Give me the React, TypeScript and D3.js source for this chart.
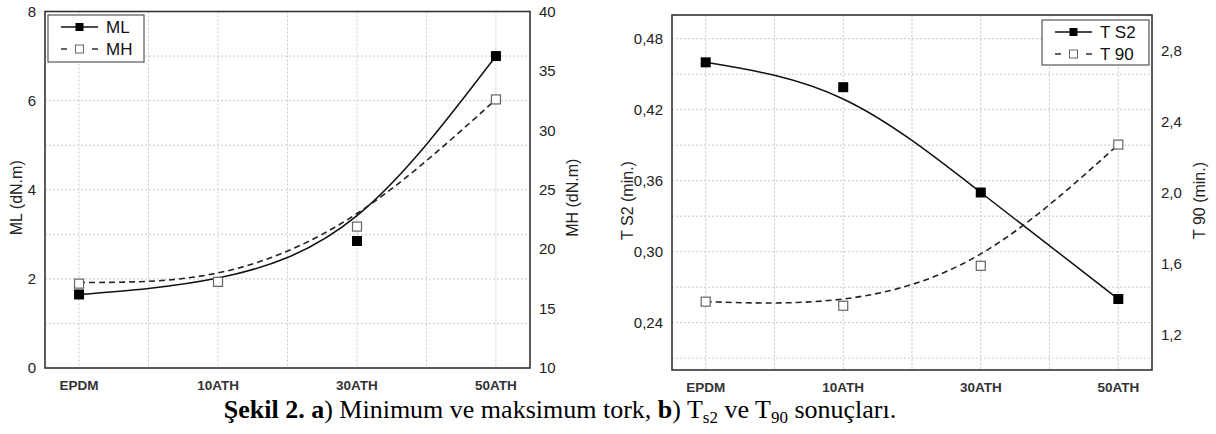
import React, { useEffect, useRef } from 'react';
import * as d3 from 'd3';

// Cure test results: a) min / max torque, b) scorch and cure times.
const categories = ['EPDM', '10ATH', '30ATH', '50ATH'];

// panel a
const mlValues = [1.65, 1.93, 2.85, 7.0];
const mhValues = [17.1, 17.25, 21.9, 32.6];
const mlFit = [1.65, 2.02, 3.42, 7.0];
const mhFit = [17.2, 18.0, 23.0, 32.6];
const mlTicks = [0, 2, 4, 6, 8];
const mlGrid = [1, 2, 3, 4, 5, 6, 7];
const mhTicks = [10, 15, 20, 25, 30, 35, 40];

// panel b
const ts2Values = [0.46, 0.439, 0.35, 0.26];
const t90Values = [1.385, 1.362, 1.587, 2.27];
const ts2Fit = [0.46, 0.429, 0.35, 0.26];
const t90Fit = [1.385, 1.4, 1.654, 2.27];
const ts2Ticks = [0.24, 0.3, 0.36, 0.42, 0.48];
const ts2Grid = [0.21, 0.24, 0.27, 0.3, 0.33, 0.36, 0.39, 0.42, 0.45, 0.48];
const t90Ticks = [1.2, 1.6, 2.0, 2.4, 2.8];

const WIDTH = 1216;
const HEIGHT = 434;
const FONT = 'Liberation Sans, Arial, sans-serif';

type Panel = {
  x0: number;
  x1: number;
  y0: number;
  y1: number;
  leftDomain: [number, number];
  rightDomain: [number, number];
  leftTicks: number[];
  leftGrid: number[];
  rightTicks: number[];
  leftFmt: (v: number) => string;
  rightFmt: (v: number) => string;
  leftTitle: string;
  leftTitleX: number;
  rightTitle: string;
  rightTitleX: number;
  solid: { values: number[]; fit: number[]; name: string };
  dashed: { values: number[]; fit: number[]; name: string };
  legend: { x: number; y: number; w: number; h: number };
};

const comma = (digits: number) => (v: number) => v.toFixed(digits).replace('.', ',');

const panels: Panel[] = [
  {
    x0: 45,
    x1: 530,
    y0: 11.5,
    y1: 368,
    leftDomain: [0, 8],
    rightDomain: [10, 40],
    leftTicks: mlTicks,
    leftGrid: mlGrid,
    rightTicks: mhTicks,
    leftFmt: (v) => String(v),
    rightFmt: (v) => String(v),
    leftTitle: 'ML (dN.m)',
    leftTitleX: 16,
    rightTitle: 'MH (dN.m)',
    rightTitleX: 572,
    solid: { values: mlValues, fit: mlFit, name: 'ML' },
    dashed: { values: mhValues, fit: mhFit, name: 'MH' },
    legend: { x: 48, y: 15, w: 96, h: 47 },
  },
  {
    x0: 672,
    x1: 1152,
    y0: 15,
    y1: 370,
    leftDomain: [0.2, 0.5],
    rightDomain: [1.0, 3.0],
    leftTicks: ts2Ticks,
    leftGrid: ts2Grid,
    rightTicks: t90Ticks,
    leftFmt: comma(2),
    rightFmt: comma(1),
    leftTitle: 'T S2 (min.)',
    leftTitleX: 627,
    rightTitle: 'T 90 (min.)',
    rightTitleX: 1199,
    solid: { values: ts2Values, fit: ts2Fit, name: 'T S2' },
    dashed: { values: t90Values, fit: t90Fit, name: 'T 90' },
    legend: { x: 1042, y: 20, w: 107, h: 45 },
  },
];

function drawPanel(svg: d3.Selection<SVGSVGElement, unknown, null, undefined>, p: Panel) {
  const g = svg.append('g');

  const x = d3.scalePoint<string>().domain(categories).range([p.x0, p.x1]).padding(0.245);
  const yL = d3.scaleLinear().domain(p.leftDomain).range([p.y1, p.y0]);
  const yR = d3.scaleLinear().domain(p.rightDomain).range([p.y1, p.y0]);

  // vertical grid at each category and halfway between neighbours
  const step = x.step();
  const vLines: number[] = [];
  categories.forEach((c, i) => {
    vLines.push(x(c)!);
    if (i < categories.length - 1) vLines.push(x(c)! + step / 2);
  });
  g.append('g')
    .selectAll('line')
    .data(vLines)
    .enter()
    .append('line')
    .attr('x1', (d) => d)
    .attr('x2', (d) => d)
    .attr('y1', p.y0)
    .attr('y2', p.y1)
    .attr('stroke', '#c8c8c8')
    .attr('stroke-width', 1)
    .attr('stroke-dasharray', '2,2');

  g.append('g')
    .selectAll('line')
    .data(p.leftGrid)
    .enter()
    .append('line')
    .attr('x1', p.x0)
    .attr('x2', p.x1)
    .attr('y1', (d) => yL(d))
    .attr('y2', (d) => yL(d))
    .attr('stroke', '#c8c8c8')
    .attr('stroke-width', 1)
    .attr('stroke-dasharray', '2,2');

  // frame
  g.append('rect')
    .attr('x', p.x0)
    .attr('y', p.y0)
    .attr('width', p.x1 - p.x0)
    .attr('height', p.y1 - p.y0)
    .attr('fill', 'none')
    .attr('stroke', '#333')
    .attr('stroke-width', 1.6);

  // tick labels
  g.append('g')
    .selectAll('text')
    .data(p.leftTicks)
    .enter()
    .append('text')
    .attr('x', p.x0 - 9)
    .attr('y', (d) => yL(d))
    .attr('dy', '0.35em')
    .attr('text-anchor', 'end')
    .attr('font-family', FONT)
    .attr('font-size', 15)
    .attr('fill', '#222')
    .text((d) => p.leftFmt(d));

  g.append('g')
    .selectAll('text')
    .data(p.rightTicks)
    .enter()
    .append('text')
    .attr('x', p.x1 + 9)
    .attr('y', (d) => yR(d))
    .attr('dy', '0.35em')
    .attr('text-anchor', 'start')
    .attr('font-family', FONT)
    .attr('font-size', 15)
    .attr('fill', '#222')
    .text((d) => p.rightFmt(d));

  g.append('g')
    .selectAll('text')
    .data(categories)
    .enter()
    .append('text')
    .attr('x', (d) => x(d)!)
    .attr('y', p.y1 + 22)
    .attr('text-anchor', 'middle')
    .attr('font-family', FONT)
    .attr('font-size', 13.5)
    .attr('font-weight', 'bold')
    .attr('fill', '#333')
    .text((d) => d);

  // axis titles
  const midY = (p.y0 + p.y1) / 2;
  g.append('text')
    .attr('transform', `translate(${p.leftTitleX},${midY + 8}) rotate(-90)`)
    .attr('text-anchor', 'middle')
    .attr('dy', '0.35em')
    .attr('font-family', FONT)
    .attr('font-size', 16)
    .attr('fill', '#222')
    .text(p.leftTitle);
  g.append('text')
    .attr('transform', `translate(${p.rightTitleX},${midY + 8}) rotate(-90)`)
    .attr('text-anchor', 'middle')
    .attr('dy', '0.35em')
    .attr('font-family', FONT)
    .attr('font-size', 16)
    .attr('fill', '#222')
    .text(p.rightTitle);

  // fitted curves
  const lineL = d3
    .line<number>()
    .x((_d, i) => x(categories[i])!)
    .y((d) => yL(d))
    .curve(d3.curveNatural);
  const lineR = d3
    .line<number>()
    .x((_d, i) => x(categories[i])!)
    .y((d) => yR(d))
    .curve(d3.curveNatural);

  g.append('path')
    .attr('d', lineL(p.solid.fit)!)
    .attr('fill', 'none')
    .attr('stroke', '#111')
    .attr('stroke-width', 1.5);
  g.append('path')
    .attr('d', lineR(p.dashed.fit)!)
    .attr('fill', 'none')
    .attr('stroke', '#222')
    .attr('stroke-width', 1.6)
    .attr('stroke-dasharray', '6,4');

  // markers
  const size = 10;
  g.append('g')
    .selectAll('rect')
    .data(p.solid.values)
    .enter()
    .append('rect')
    .attr('x', (_d, i) => x(categories[i])! - size / 2)
    .attr('y', (d) => yL(d) - size / 2)
    .attr('width', size)
    .attr('height', size)
    .attr('fill', '#000');
  g.append('g')
    .selectAll('rect')
    .data(p.dashed.values)
    .enter()
    .append('rect')
    .attr('x', (_d, i) => x(categories[i])! - size / 2 + 0.5)
    .attr('y', (d) => yR(d) - size / 2 + 0.5)
    .attr('width', size - 1)
    .attr('height', size - 1)
    .attr('fill', '#fff')
    .attr('stroke', '#666')
    .attr('stroke-width', 1.2);

  // legend
  const lg = g.append('g').attr('transform', `translate(${p.legend.x},${p.legend.y})`);
  lg.append('rect')
    .attr('width', p.legend.w)
    .attr('height', p.legend.h)
    .attr('fill', '#fff')
    .attr('stroke', '#555')
    .attr('stroke-width', 1.2);
  const rows = [
    { name: p.solid.name, dashed: false, y: 12 },
    { name: p.dashed.name, dashed: true, y: 34 },
  ];
  rows.forEach((r) => {
    const sx0 = 13;
    const sx1 = 50;
    const cx = (sx0 + sx1) / 2;
    if (r.dashed) {
      lg.append('line').attr('x1', sx0).attr('x2', sx0 + 6).attr('y1', r.y).attr('y2', r.y).attr('stroke', '#222').attr('stroke-width', 1.4);
      lg.append('line').attr('x1', sx1 - 6).attr('x2', sx1).attr('y1', r.y).attr('y2', r.y).attr('stroke', '#222').attr('stroke-width', 1.4);
      lg.append('rect')
        .attr('x', cx - 4)
        .attr('y', r.y - 4)
        .attr('width', 8)
        .attr('height', 8)
        .attr('fill', '#fff')
        .attr('stroke', '#666')
        .attr('stroke-width', 1);
    } else {
      lg.append('line').attr('x1', sx0).attr('x2', sx1).attr('y1', r.y).attr('y2', r.y).attr('stroke', '#111').attr('stroke-width', 1.4);
      lg.append('rect').attr('x', cx - 4).attr('y', r.y - 4).attr('width', 8).attr('height', 8).attr('fill', '#000');
    }
    lg.append('text')
      .attr('x', sx1 + 8)
      .attr('y', r.y)
      .attr('dy', '0.36em')
      .attr('font-family', FONT)
      .attr('font-size', 17)
      .attr('fill', '#111')
      .text(r.name);
  });
}

const App = () => {
  const ref = useRef<SVGSVGElement>(null);

  useEffect(() => {
    const svg = d3.select(ref.current!);
    svg.selectAll('*').remove();
    svg.append('rect').attr('width', WIDTH).attr('height', HEIGHT).attr('fill', '#fff');
    panels.forEach((p) => drawPanel(svg, p));

    // figure caption
    const cap = svg
      .append('text')
      .attr('x', 560)
      .attr('y', 418)
      .attr('text-anchor', 'middle')
      .attr('font-family', 'Liberation Serif, Times New Roman, serif')
      .attr('font-size', 26)
      .attr('fill', '#000');
    cap.append('tspan').attr('font-weight', 'bold').text('Şekil 2. a');
    cap.append('tspan').text(') Minimum ve maksimum tork, ');
    cap.append('tspan').attr('font-weight', 'bold').text('b');
    cap.append('tspan').text(') T');
    cap.append('tspan').attr('font-size', 17).attr('dy', 5).text('s2');
    cap.append('tspan').attr('dy', -5).text(' ve T');
    cap.append('tspan').attr('font-size', 17).attr('dy', 5).text('90');
    cap.append('tspan').attr('dy', -5).text(' sonuçları.');
  }, []);

  return (
    <svg
      ref={ref}
      width={WIDTH}
      height={HEIGHT}
      style={{ position: 'absolute', left: 0, top: 0, display: 'block' }}
    />
  );
};

export default App;
